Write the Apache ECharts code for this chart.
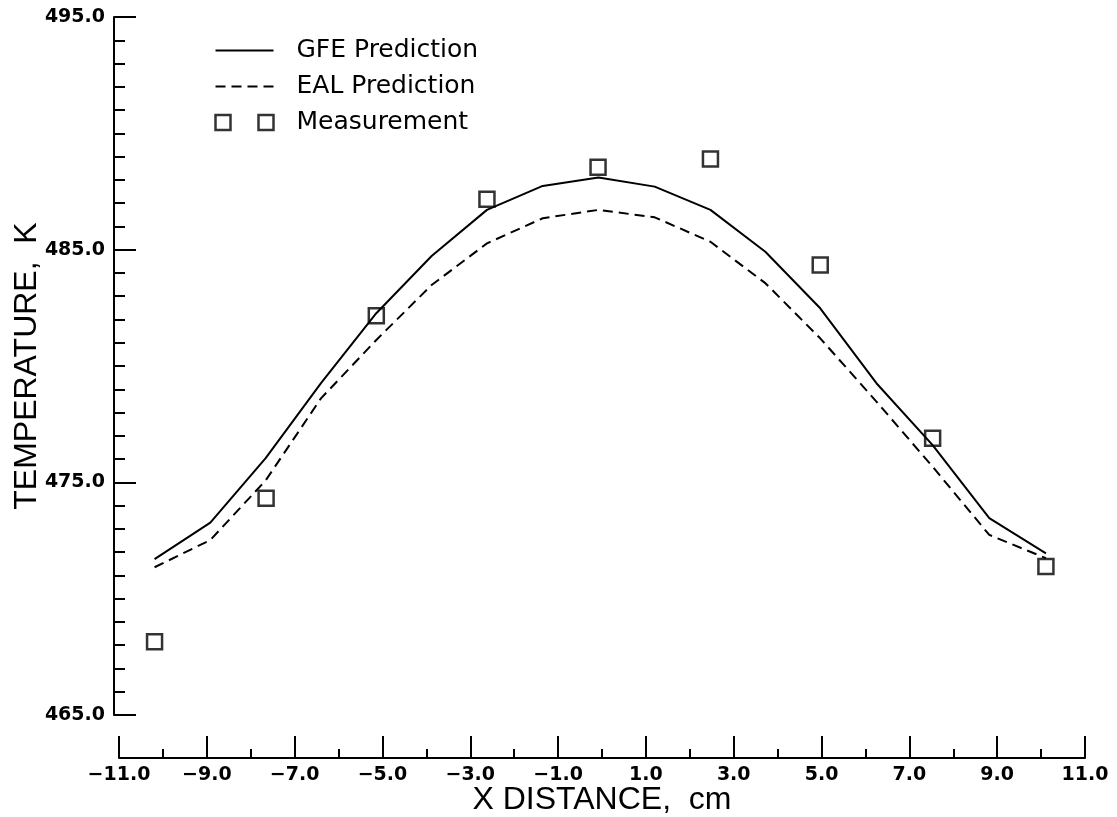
<!DOCTYPE html>
<html>
<head>
<meta charset="utf-8">
<script src="https://cdn.jsdelivr.net/npm/echarts@6/dist/echarts.min.js"></script>
<style>
  html, body { margin: 0; padding: 0; background: #fff; }
  #chart { width: 1117px; height: 817px; }
</style>
</head>
<body>
<div id="chart"></div>
<script>
// x positions of the prediction nodes, cm
const xNodes = [-10.19, -8.92, -7.66, -6.40, -5.14, -3.88, -2.62, -1.35, -0.08, 1.20, 2.47, 3.72, 4.97, 6.25, 7.53, 8.82, 10.11];
// predicted temperature, K
const gfePred = [471.70, 473.27, 476.04, 479.26, 482.27, 484.73, 486.71, 487.74, 488.10, 487.71, 486.71, 484.91, 482.48, 479.26, 476.60, 473.46, 471.95];
const ealPred = [471.35, 472.52, 475.08, 478.61, 481.12, 483.48, 485.27, 486.35, 486.71, 486.39, 485.34, 483.56, 481.19, 478.47, 475.67, 472.74, 471.74];
// measurements
const measX = [-10.19, -7.65, -5.14, -2.62, -0.09, 2.47, 4.97, 7.53, 10.11];
const measY = [468.15, 474.32, 482.16, 487.17, 488.54, 488.90, 484.34, 476.89, 471.38];

const fmt = v => v.toFixed(1).replace("-", "\u2212");
const black = { color: "#000", width: 2 };
const titleFont = { fontFamily: "Liberation Sans", fontSize: 32, color: "#000" };
const tickFont = { fontFamily: "DejaVu Sans", fontSize: 19, fontWeight: "bold", color: "#000" };

const chart = echarts.init(document.getElementById("chart"));
chart.setOption({
  animation: false,
  color: ["#000", "#000", "#000"],
  grid: { left: 119, right: 32, top: 17, bottom: 102, containLabel: false, outerBoundsMode: "none" },
  legend: {
    orient: "vertical",
    left: 208,
    top: 33,
    itemWidth: 58,
    itemHeight: 15,
    itemGap: 11,
    textStyle: { fontFamily: "DejaVu Sans", fontSize: 25, color: "#000", padding: [0, 0, 0, 18] },
    data: [
      { name: "GFE Prediction", itemStyle: { opacity: 0 } },
      { name: "EAL Prediction", itemStyle: { opacity: 0 } },
      {
        name: "Measurement",
        icon: "path://M0,0H15V15H0Z M43,0H58V15H43Z",
        itemStyle: { color: "none", borderColor: "#000", borderWidth: 2.5 }
      }
    ]
  },
  xAxis: {
    type: "value",
    min: -11,
    max: 11,
    interval: 2,
    offset: 43,
    axisLine: { show: true, onZero: false, lineStyle: black },
    axisTick: { show: true, inside: true, length: 22, lineStyle: black },
    minorTick: { show: true, splitNumber: 2, length: 9, lineStyle: black },
    splitLine: { show: false },
    axisLabel: { margin: 8, formatter: fmt, ...tickFont },
    name: "X DISTANCE,  cm",
    nameLocation: "middle",
    nameGap: 26,
    nameMoveOverlap: false,
    nameTextStyle: titleFont
  },
  yAxis: {
    type: "value",
    min: 465,
    max: 495,
    interval: 10,
    offset: 5,
    axisLine: { show: true, onZero: false, lineStyle: black },
    axisTick: { show: true, inside: true, length: 22, lineStyle: black },
    minorTick: { show: true, splitNumber: 10, length: 11, lineStyle: black },
    splitLine: { show: false },
    axisLabel: { margin: 9, formatter: fmt, ...tickFont },
    name: "TEMPERATURE,  K",
    nameLocation: "middle",
    nameRotate: 90,
    nameGap: 71,
    nameMoveOverlap: false,
    nameTextStyle: titleFont
  },
  series: [
    {
      name: "GFE Prediction",
      type: "line",
      symbol: "none",
      data: xNodes.map((x, i) => [x, gfePred[i]]),
      lineStyle: { color: "#000", width: 2 }
    },
    {
      name: "EAL Prediction",
      type: "line",
      symbol: "none",
      data: xNodes.map((x, i) => [x, ealPred[i]]),
      lineStyle: { color: "#000", width: 2, type: [10, 6] }
    },
    {
      name: "Measurement",
      type: "scatter",
      symbol: "rect",
      symbolSize: 15,
      data: measX.map((x, i) => [x, measY[i]]),
      itemStyle: { color: "none", borderColor: "#000", borderWidth: 2.5 }
    }
  ]
});
</script>
</body>
</html>
